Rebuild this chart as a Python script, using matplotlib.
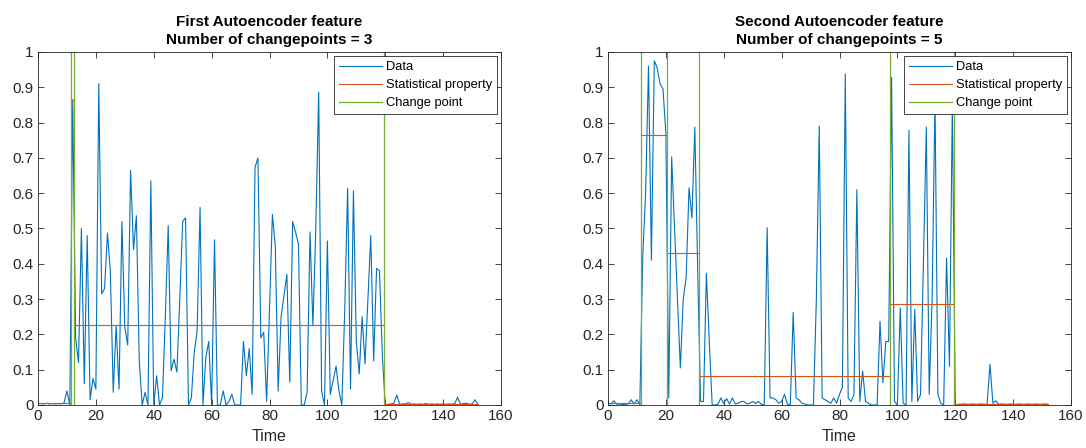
import numpy as np
import matplotlib
matplotlib.use("Agg")
import matplotlib.pyplot as plt

plt.rcParams['font.family'] = ['Liberation Sans', 'DejaVu Sans']

# ---------------- data ----------------
feature1 = [0.004, 0.003, 0.005, 0.003, 0.004, 0.003, 0.004, 0.003, 0.006, 0.04,
            0.0, 0.865, 0.19, 0.12, 0.50, 0.06, 0.48, 0.015, 0.075, 0.045,
            0.91, 0.315, 0.33, 0.487, 0.38, 0.036, 0.225, 0.045, 0.52, 0.22,
            0.17, 0.665, 0.44, 0.536, 0.125, 0.0, 0.036, 0.0, 0.635, 0.0,
            0.083, 0.0, 0.02, 0.25, 0.508, 0.097, 0.13, 0.093, 0.30, 0.52,
            0.53, 0.0, 0.02, 0.15, 0.21, 0.56, 0.0, 0.135, 0.18, 0.0,
            0.468, 0.0, 0.0, 0.04, 0.0, 0.01, 0.03, 0.0, 0.0, 0.0,
            0.18, 0.083, 0.16, 0.03, 0.673, 0.70, 0.19, 0.206, 0.01, 0.27,
            0.54, 0.45, 0.04, 0.25, 0.31, 0.37, 0.065, 0.52, 0.49, 0.456,
            0.0, 0.0, 0.036, 0.49, 0.225, 0.50, 0.886, 0.04, 0.0, 0.465,
            0.03, 0.07, 0.11, 0.04, 0.0, 0.27, 0.614, 0.045, 0.607, 0.18,
            0.088, 0.25, 0.116, 0.30, 0.48, 0.125, 0.387, 0.38, 0.14, 0.0,
            0.002, 0.003, 0.005, 0.028, 0.002, 0.003, 0.003, 0.007, 0.002, 0.003,
            0.002, 0.003, 0.002, 0.004, 0.002, 0.003, 0.002, 0.003, 0.002, 0.003,
            0.002, 0.003, 0.002, 0.004, 0.022, 0.002, 0.004, 0.005, 0.002, 0.003,
            0.015, 0.002]

feature2 = [0.002, 0.012, 0.002, 0.003, 0.001, 0.002, 0.003, 0.015, 0.003, 0.015,
            0.001, 0.42, 0.60, 0.96, 0.41, 0.975, 0.955, 0.91, 0.895, 0.77,
            0.02, 0.703, 0.50, 0.30, 0.105, 0.30, 0.36, 0.615, 0.53, 0.787,
            0.38, 0.01, 0.01, 0.373, 0.18, 0.0, 0.0, 0.002, 0.02, 0.004,
            0.018, 0.003, 0.02, 0.003, 0.005, 0.01, 0.01, 0.003, 0.005, 0.01,
            0.004, 0.01, 0.002, 0.0, 0.502, 0.02, 0.02, 0.015, 0.005, 0.01,
            0.03, 0.002, 0.0, 0.262, 0.02, 0.015, 0.005, 0.003, 0.0, 0.0,
            0.0, 0.30, 0.79, 0.02, 0.015, 0.01, 0.005, 0.02, 0.005, 0.03,
            0.05, 0.938, 0.02, 0.01, 0.03, 0.61, 0.01, 0.096, 0.01, 0.005,
            0.0, 0.0, 0.0, 0.237, 0.063, 0.18, 0.18, 0.928, 0.01, 0.0,
            0.275, 0.005, 0.0, 0.778, 0.01, 0.27, 0.01, 0.03, 0.40, 0.787,
            0.03, 0.30, 0.87, 0.03, 0.005, 0.0, 0.416, 0.11, 0.86, 0.0,
            0.002, 0.002, 0.003, 0.002, 0.002, 0.003, 0.002, 0.002, 0.003, 0.002,
            0.002, 0.115, 0.005, 0.012, 0.002, 0.003, 0.002, 0.002, 0.003, 0.002,
            0.002, 0.003, 0.002, 0.002, 0.003, 0.002, 0.002, 0.003, 0.002, 0.002,
            0.003, 0.002]

time = np.arange(1, len(feature1) + 1)

# change points and segment means
cp1 = [11.5, 12.5, 119.5]
seg_mean1 = [0.005, 0.865, 0.228, 0.003]
cp2 = [11.5, 20.5, 31.5, 97.5, 119.5]
seg_mean2 = [0.005, 0.766, 0.43, 0.083, 0.285, 0.003]
seg_start, seg_end = 0.5, 152

titles = ["First Autoencoder feature\nNumber of changepoints = 3",
          "Second Autoencoder feature\nNumber of changepoints = 5"]
xticks = [0, 20, 40, 60, 80, 100, 120, 140, 160]
yticks = [0, 0.1, 0.2, 0.3, 0.4, 0.5, 0.6, 0.7, 0.8, 0.9, 1]
ytick_labels = ['0', '0.1', '0.2', '0.3', '0.4', '0.5', '0.6', '0.7', '0.8', '0.9', '1']

C_DATA = '#0072BD'
C_STAT = '#D95319'
C_CP = '#77AC30'
AX_COL = '#262626'

fig = plt.figure(figsize=(10.86, 4.48), dpi=100)
W, H = 1086, 448
top_px, bot_px = 52, 405
axes_pos = [(38, 463), (608, 463)]

for k, (data, cps, means) in enumerate([(feature1, cp1, seg_mean1),
                                        (feature2, cp2, seg_mean2)]):
    left, width = axes_pos[k]
    ax = fig.add_axes([left / W, 1 - bot_px / H, width / W, (bot_px - top_px) / H])
    ax.plot(time, data, color=C_DATA, lw=0.8, label='Data')
    bounds = [seg_start] + list(cps) + [seg_end]
    for i, m in enumerate(means):
        ax.plot([bounds[i], bounds[i + 1]], [m, m], color=C_STAT, lw=0.8,
                label='Statistical property' if i == 0 else None)
    for i, c in enumerate(cps):
        ax.plot([c, c], [0, 1], color=C_CP, lw=0.9,
                label='Change point' if i == 0 else None)
    ax.set_xlim(0, 160)
    ax.set_ylim(0, 1)
    ax.set_xticks(xticks)
    ax.set_yticks(yticks)
    ax.set_yticklabels(ytick_labels)
    ax.tick_params(direction='in', top=True, right=True, length=4, width=0.6,
                   colors=AX_COL, labelsize=11, pad=3)
    for s in ax.spines.values():
        s.set_color(AX_COL)
        s.set_linewidth(0.6)
    ax.set_xlabel('Time', fontsize=11.5, color=AX_COL, labelpad=4)
    ax.set_title(titles[k], fontsize=11, fontweight='bold', pad=6,
                 linespacing=1.3)
    leg = ax.legend(loc='upper right', fontsize=9.3, frameon=True, fancybox=False,
                    handlelength=3.3, handletextpad=0.3, labelspacing=0.46,
                    borderpad=0.4, borderaxespad=0.3)
    leg.get_frame().set_edgecolor(AX_COL)
    leg.get_frame().set_linewidth(0.6)
    leg.get_frame().set_alpha(1)

fig.savefig('out.png', dpi=100, facecolor='white')
